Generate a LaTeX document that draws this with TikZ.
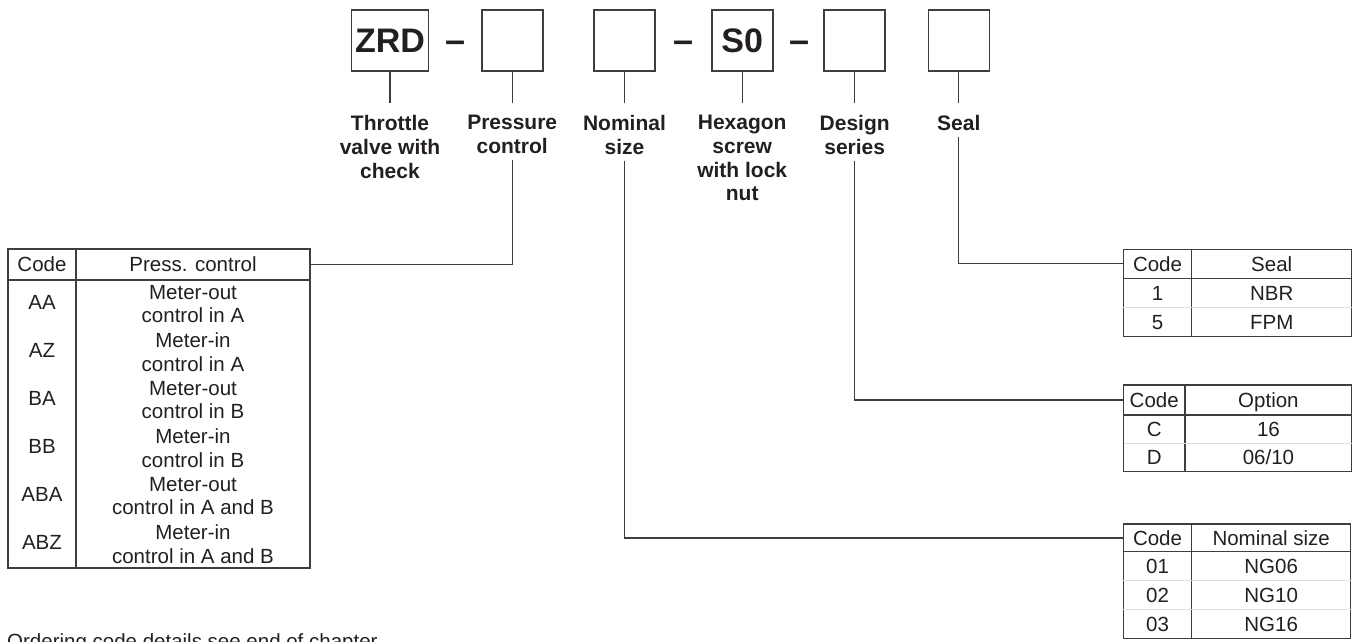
\documentclass[tikz,border=0pt]{standalone}
\usepackage{fontspec}
\setmainfont{Liberation Sans}
\usepackage{tikz}
\usetikzlibrary{positioning,calc}
\definecolor{ink}{RGB}{35,31,32}
\definecolor{rule}{RGB}{62,62,62}
\definecolor{faint}{RGB}{222,222,222}

\begin{document}
\begin{tikzpicture}[x=1pt,y=-1pt,
  codebox/.style={draw=rule,line width=1.6pt,minimum width=61pt,minimum height=61pt,inner sep=0pt,text=ink,font=\fontsize{34}{40}\selectfont\bfseries},
  dashmark/.style={anchor=base,inner sep=0pt,text=ink,font=\fontsize{36}{40}\selectfont\bfseries},
  what/.style={anchor=north,align=center,inner sep=0pt,text=ink,font=\fontsize{21}{23.7}\selectfont\bfseries},
  cell/.style={draw=rule,line width=1.3pt,inner sep=0pt,text height=14.7pt,text depth=0pt,text=ink,font=\fontsize{20.5}{23.5}\selectfont},
  celltext/.style={inner sep=0pt,align=center,text=ink,font=\fontsize{20.5}{23.5}\selectfont},
  onetext/.style={celltext,text height=14.7pt,text depth=0pt},
  lead/.style={rule,line width=1.3pt},
  faintrule/.style={faint,line width=0.8pt,shorten <=0.8pt,shorten >=0.8pt}]
  \useasboundingbox (0,0) rectangle (1355,641);
  \node[codebox,minimum width=77pt] (bzrd) at (390,40.5) {ZRD};
  \node[codebox] (bpc) at (512.2,40.5) {}; \node[codebox] (bng) at (624.5,40.5) {}; \node[codebox] (bhx) at (742.2,40.5) {S0};
  \node[codebox] (bds) at (854.7,40.5) {}; \node[codebox] (bse) at (958.8,40.5) {};
  \foreach \x/\n in {455.8/1,684/2,799.3/3} \node[dashmark] (dash\n) at (\x,52) {--};
  \node[what] (lzrd) at (390,115.2) {Throttle\\valve with\\check};
  \node[what] (lpc) at (512.2,115.2) {Pressure\\control};
  \node[what] (lng) at (624.5,115.2) {Nominal\\size};
  \node[what] (lhx) at (742.2,115.2) {Hexagon\\screw\\with lock\\nut};
  \node[what] (lds) at (854.7,115.2) {Design\\series};
  \node[what] (lse) at (958.8,115.2) {Seal};
  \foreach \k in {zrd,pc,ng,hx,ds,se} \draw[lead] (b\k.south) -- ([yshift=12pt]l\k.north);
  % pressure control
  \node[cell,minimum width=68pt,minimum height=31pt] (hcpc) at (42,264.5) {Code};
  \node[cell,minimum width=234pt,minimum height=31pt] (htpc) at (193,264.5) {Press. control};
  \node[cell,minimum width=68pt,minimum height=288pt] (bcpc) at (42,424) {};
  \node[cell,minimum width=234pt,minimum height=288pt] (btpc) at (193,424) {};
  \foreach \c/\t [count=\i] in {AA/Meter-out\\control in A,AZ/Meter-in\\control in A,BA/Meter-out\\control in B,BB/Meter-in\\control in B,ABA/Meter-out\\control in A and B,ABZ/Meter-in\\control in A and B}
    {\node[onetext] (cpc\i) at (42,{254+48*\i}) {\c}; \node[celltext] (tpc\i) at (193,{256+48*\i}) {\t};}
  \draw[lead] ([yshift=-6pt]lpc.south) |- (htpc.east);
  % seal
  \node[cell,minimum width=68.4pt,minimum height=29pt] (hcse) at (1157.5,263.8) {Code};
  \node[cell,minimum width=160pt,minimum height=29pt] (htse) at (1271.7,263.8) {Seal};
  \node[cell,minimum width=68.4pt,minimum height=58.4pt] (bcse) at (1157.5,307.5) {};
  \node[cell,minimum width=160pt,minimum height=58.4pt] (btse) at (1271.7,307.5) {};
  \draw[faintrule] (bcse.west) -- (bcse.east); \draw[faintrule] (btse.west) -- (btse.east);
  \foreach \c/\t [count=\i] in {1/NBR,5/FPM} {\node[onetext] (cse\i) at (1157.5,{263.7+29.2*\i}) {\c}; \node[onetext] (tse\i) at (1271.7,{263.7+29.2*\i}) {\t};}
  \draw[lead] ([yshift=-6pt]lse.south) |- (hcse.west);
  % design series
  \node[cell,minimum width=61.7pt,minimum height=30pt] (hcds) at (1154.2,400) {Code};
  \node[cell,minimum width=166.7pt,minimum height=30pt] (htds) at (1268.4,400) {Option};
  \node[cell,minimum width=61.7pt,minimum height=56.7pt] (bcds) at (1154.2,443.4) {};
  \node[cell,minimum width=166.7pt,minimum height=56.7pt] (btds) at (1268.4,443.4) {};
  \draw[faintrule] (bcds.west) -- (bcds.east); \draw[faintrule] (btds.west) -- (btds.east);
  \foreach \c/\t [count=\i] in {C/16,D/06\slash 10} {\node[onetext] (cds\i) at (1154.2,{400.8+28.35*\i}) {\c}; \node[onetext] (tds\i) at (1268.4,{400.8+28.35*\i}) {\t};}
  \draw[lead] ([yshift=-6pt]lds.south) |- (hcds.west);
  % nominal size
  \node[cell,minimum width=68.4pt,minimum height=27.7pt] (hcng) at (1157.5,537.9) {Code};
  \node[cell,minimum width=159pt,minimum height=27.7pt] (htng) at (1271.2,537.9) {Nominal size};
  \node[cell,minimum width=68.4pt,minimum height=86.6pt] (bcng) at (1157.5,595) {};
  \node[cell,minimum width=159pt,minimum height=86.6pt] (btng) at (1271.2,595) {};
  \foreach \f in {1/3,2/3} {\draw[faintrule] ($(bcng.north west)!\f!(bcng.south west)$) -- ($(bcng.north east)!\f!(bcng.south east)$); \draw[faintrule] ($(btng.north west)!\f!(btng.south west)$) -- ($(btng.north east)!\f!(btng.south east)$);}
  \foreach \c/\t [count=\i] in {01/NG06,02/NG10,03/NG16} {\node[onetext] (cng\i) at (1157.5,{537.2+28.87*\i}) {\c}; \node[onetext] (tng\i) at (1271.2,{537.2+28.87*\i}) {\t};}
  \draw[lead] ([yshift=-6pt]lng.south) |- (hcng.west);
  \node[celltext,anchor=north west] (note) at (7,633) {Ordering code details see end of chapter};
\end{tikzpicture}
\end{document}
